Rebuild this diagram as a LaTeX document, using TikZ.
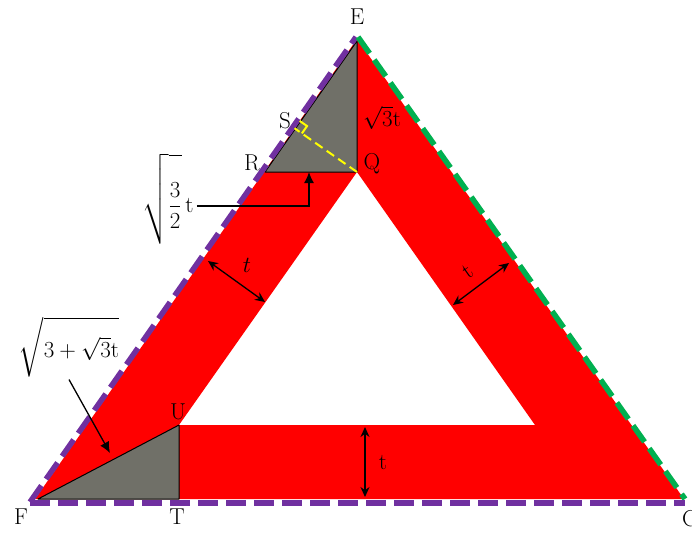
\RequirePackage{fix-cm}
\documentclass[tikz,border=0pt]{standalone}
\usepackage{amsmath}
\usetikzlibrary{calc,arrows.meta}
\definecolor{myred}{RGB}{255,0,0}
\definecolor{mygrey}{RGB}{112,112,104}
\definecolor{mypurple}{RGB}{112,48,160}
\definecolor{mygreen}{RGB}{0,176,80}
\definecolor{myyellow}{RGB}{255,255,0}
\begin{document}
\begin{tikzpicture}[x=1pt,y=-1pt,
  lbl/.style={font=\fontsize{23}{27}\selectfont, inner sep=0pt},
  edgedash/.style={line width=5.5pt, dash pattern=on 20pt off 8pt},
  dim/.style={line width=1.3pt, {Stealth[length=10pt,width=9pt]}-{Stealth[length=10pt,width=9pt]}},
  pointer/.style={line width=1.3pt, -{Latex[length=11pt,width=10pt]}},
  greytri/.style={fill=mygrey, draw=black, line width=1pt, line join=round}]
\useasboundingbox (0,0) rectangle (692,532);
% main vertices
\coordinate (F) at (35,499);
\coordinate (E) at (357,39);
\coordinate (G) at (684,499);
\coordinate (Q) at (357,172);
\coordinate (U) at (179,425);
\coordinate (V) at (535,425);
\coordinate (T) at (179,499);
\coordinate (R) at (265,172);
\coordinate (Eg) at (357,41);
\coordinate (Fg) at (38,499);
% red frame
\fill[myred, even odd rule] (F) -- (E) -- (G) -- cycle (Q) -- (U) -- (V) -- cycle;
% grey triangles
\draw[greytri] (Eg) -- (R) -- (Q) -- cycle;
\draw[greytri] (Fg) -- (U) -- (T) -- cycle;
% dashed outline
\coordinate (Fd) at (30,502);
\coordinate (Ed) at (356,37);
\coordinate (Ed2) at (358,37);
\coordinate (Gd) at (685,499);
\coordinate (Gd2) at (685,503);
\coordinate (Fd2) at (30,503);
\draw[edgedash, mypurple] (Fd) -- (Ed);
\draw[edgedash, mygreen] (Ed2) -- (Gd);
\draw[edgedash, mypurple] (Fd2) -- (Gd2);
% perpendicular QS with right-angle mark
\coordinate (S) at ($(F)!(Q)!(E)$);
\coordinate (Sa) at ($(S)!9pt!(Q)$);
\coordinate (Sb) at ($(S)!9pt!(E)$);
\coordinate (Sc) at ($(Sa)+(Sb)-(S)$);
\draw[myyellow, line width=2pt, dash pattern=on 9pt off 5pt] (Q) -- (S);
\draw[myyellow, line width=2pt] (Sa) -- (Sc) -- (Sb);
% labels
\node[lbl] (lE) at (357,17) {E};
\node[lbl] (lS) at (285,121) {S};
\node[lbl] (lR) at (252,163) {R};
\node[lbl] (lQ) at (372,164) {Q};
\node[lbl] (l3t) at (382,118) {$\sqrt{3}\mathrm{t}$};
\node[lbl] (lU) at (178,412) {U};
\node[lbl] (lF) at (21,517) {F};
\node[lbl] (lT) at (177,517) {T};
\node[lbl, anchor=west] (lG) at (682,519) {G};
% sqrt(3/2) t pointer
\node[lbl] (l32) at (168,199) {$\sqrt{\rule[-28pt]{0pt}{80pt}\dfrac{3}{2}}\,\mathrm{t}$};
\coordinate (RQm) at (309,172);
\draw[pointer] ([xshift=3pt,yshift=-7pt]l32.east) -| (RQm);
% sqrt(3+sqrt3 t) pointer
\node[lbl] (l33) at (69,347) {$\sqrt{\rule[-14pt]{0pt}{46pt}3+\sqrt{3}\mathrm{t}}$};
\coordinate (FUm) at (110,453);
\draw[pointer] ([yshift=-2pt]l33.south) -- (FUm);
% thickness arrows
\coordinate (d1a) at (208,261);
\coordinate (d1b) at (265,302);
\draw[dim] (d1a) -- (d1b);
\node[lbl] (lt1) at (247,265) {$t$};
\coordinate (d2a) at (453,305);
\coordinate (d2b) at (509,263);
\draw[dim] (d2a) -- (d2b);
\node[lbl, rotate=35] (lt2) at (468,271) {t};
\coordinate (d3a) at (365,427);
\coordinate (d3b) at (365,497);
\draw[dim] (d3a) -- (d3b);
\node[lbl] (lt3) at (383,463) {t};
\end{tikzpicture}
\end{document}
